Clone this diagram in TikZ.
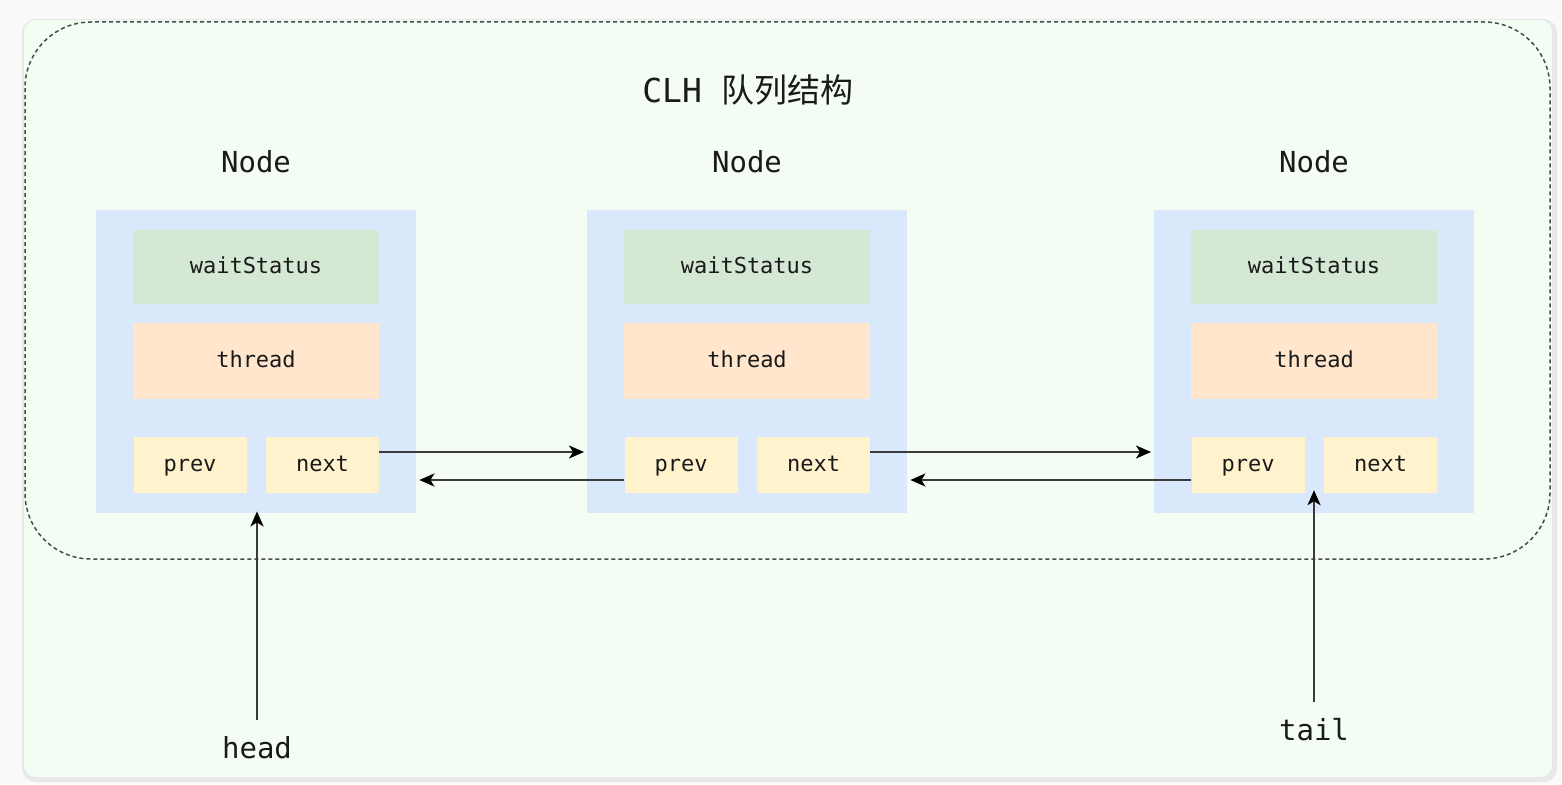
\documentclass[tikz,border=0pt]{standalone}
\usepackage{fontspec}
\setmonofont{DejaVu Sans Mono}
\newfontfamily\cjk{Noto Sans CJK SC}
\usetikzlibrary{arrows.meta,calc}
\definecolor{pagebg}{HTML}{FAFAFA}
\definecolor{shadowc}{HTML}{E8E8E8}
\definecolor{cardbg}{HTML}{F3FDF4}
\definecolor{dashc}{HTML}{4A4A4A}
\definecolor{nodeblue}{HTML}{DAE8FC}
\definecolor{wsgreen}{HTML}{D5E8D4}
\definecolor{thorange}{HTML}{FFE6CC}
\definecolor{ptryellow}{HTML}{FFF2CC}
\definecolor{txt}{HTML}{1A1A1A}
\definecolor{arrc}{HTML}{3A3A3A}
\tikzset{
  outerbox/.style={fill=nodeblue, draw=none, minimum width=320pt, minimum height=303pt, inner sep=0pt, anchor=north west},
  field/.style={draw=none, inner sep=0pt, text=txt, text height=16pt, text depth=4pt, font=\fontsize{22}{26}\selectfont\ttfamily},
  wsbox/.style={field, fill=wsgreen, minimum width=246pt, minimum height=74pt},
  thbox/.style={field, fill=thorange, minimum width=246pt, minimum height=76pt},
  ptrbox/.style={field, fill=ptryellow, minimum width=113pt, minimum height=56pt},
  label/.style={text=txt, inner sep=0pt, font=\fontsize{29}{34}\selectfont\ttfamily},
  arr/.style={draw=arrc, line width=2.3pt, -{Stealth[length=15pt,width=13pt,inset=4pt,color=black]}}
}
\begin{document}
\begin{tikzpicture}[x=1pt,y=-1pt]
\useasboundingbox (0,0) rectangle (1562,784);
\fill[pagebg] (0,0) rectangle (1562,784);
\fill[shadowc, rounded corners=14pt] (22,19) rectangle (1557,782);
\fill[cardbg, rounded corners=12pt] (24,20) rectangle (1552,777);
\draw[dashc, line width=1.5pt, dash pattern=on 4pt off 3pt, rounded corners=66pt] (25,22) rectangle (1550,559);

\node[inner sep=0pt, text=txt, font=\fontsize{33}{38}\selectfont] (title) at (748,90) {\ttfamily CLH\ {\cjk 队列结构}};

\foreach \i/\dx in {1/0,2/491,3/1058}{
  \node[outerbox] (n\i box) at (96+\dx,210) {};
  \node[label] (n\i lbl) at (256+\dx,162) {Node};
  \node[wsbox] (n\i ws) at (256+\dx,267) {waitStatus};
  \node[thbox] (n\i th) at (256+\dx,361) {thread};
  \node[ptrbox] (n\i prev) at (190+\dx,465) {prev};
  \node[ptrbox] (n\i next) at (322.5+\dx,465) {next};
}

\draw[arr, shorten >=3pt] ([yshift=13pt]n1next.east) -- ([yshift=13pt]n1next.east -| n2box.west);
\draw[arr, shorten >=3pt] ([yshift=-15pt]n2prev.west) -- ([yshift=-15pt]n2prev.west -| n1box.east);
\draw[arr, shorten >=3pt] ([yshift=13pt]n2next.east) -- ([yshift=13pt]n2next.east -| n3box.west);
\draw[arr, shorten >=3pt] ([yshift=-15pt]n3prev.west) -- ([yshift=-15pt]n3prev.west -| n2box.east);

\node[label] (head) at (257,748) {head};
\coordinate (headstart) at (257,720);
\draw[arr, shorten >=-2pt] (headstart) -- (headstart |- n1box.south);

\node[label] (tail) at (1314,730) {tail};
\coordinate (tailstart) at (1314,702);
\coordinate (gap) at ($(n3prev.south east)!0.5!(n3next.south west)$);
\draw[arr, shorten >=-3pt] (tailstart) -- (tailstart |- gap);
\end{tikzpicture}
\end{document}
